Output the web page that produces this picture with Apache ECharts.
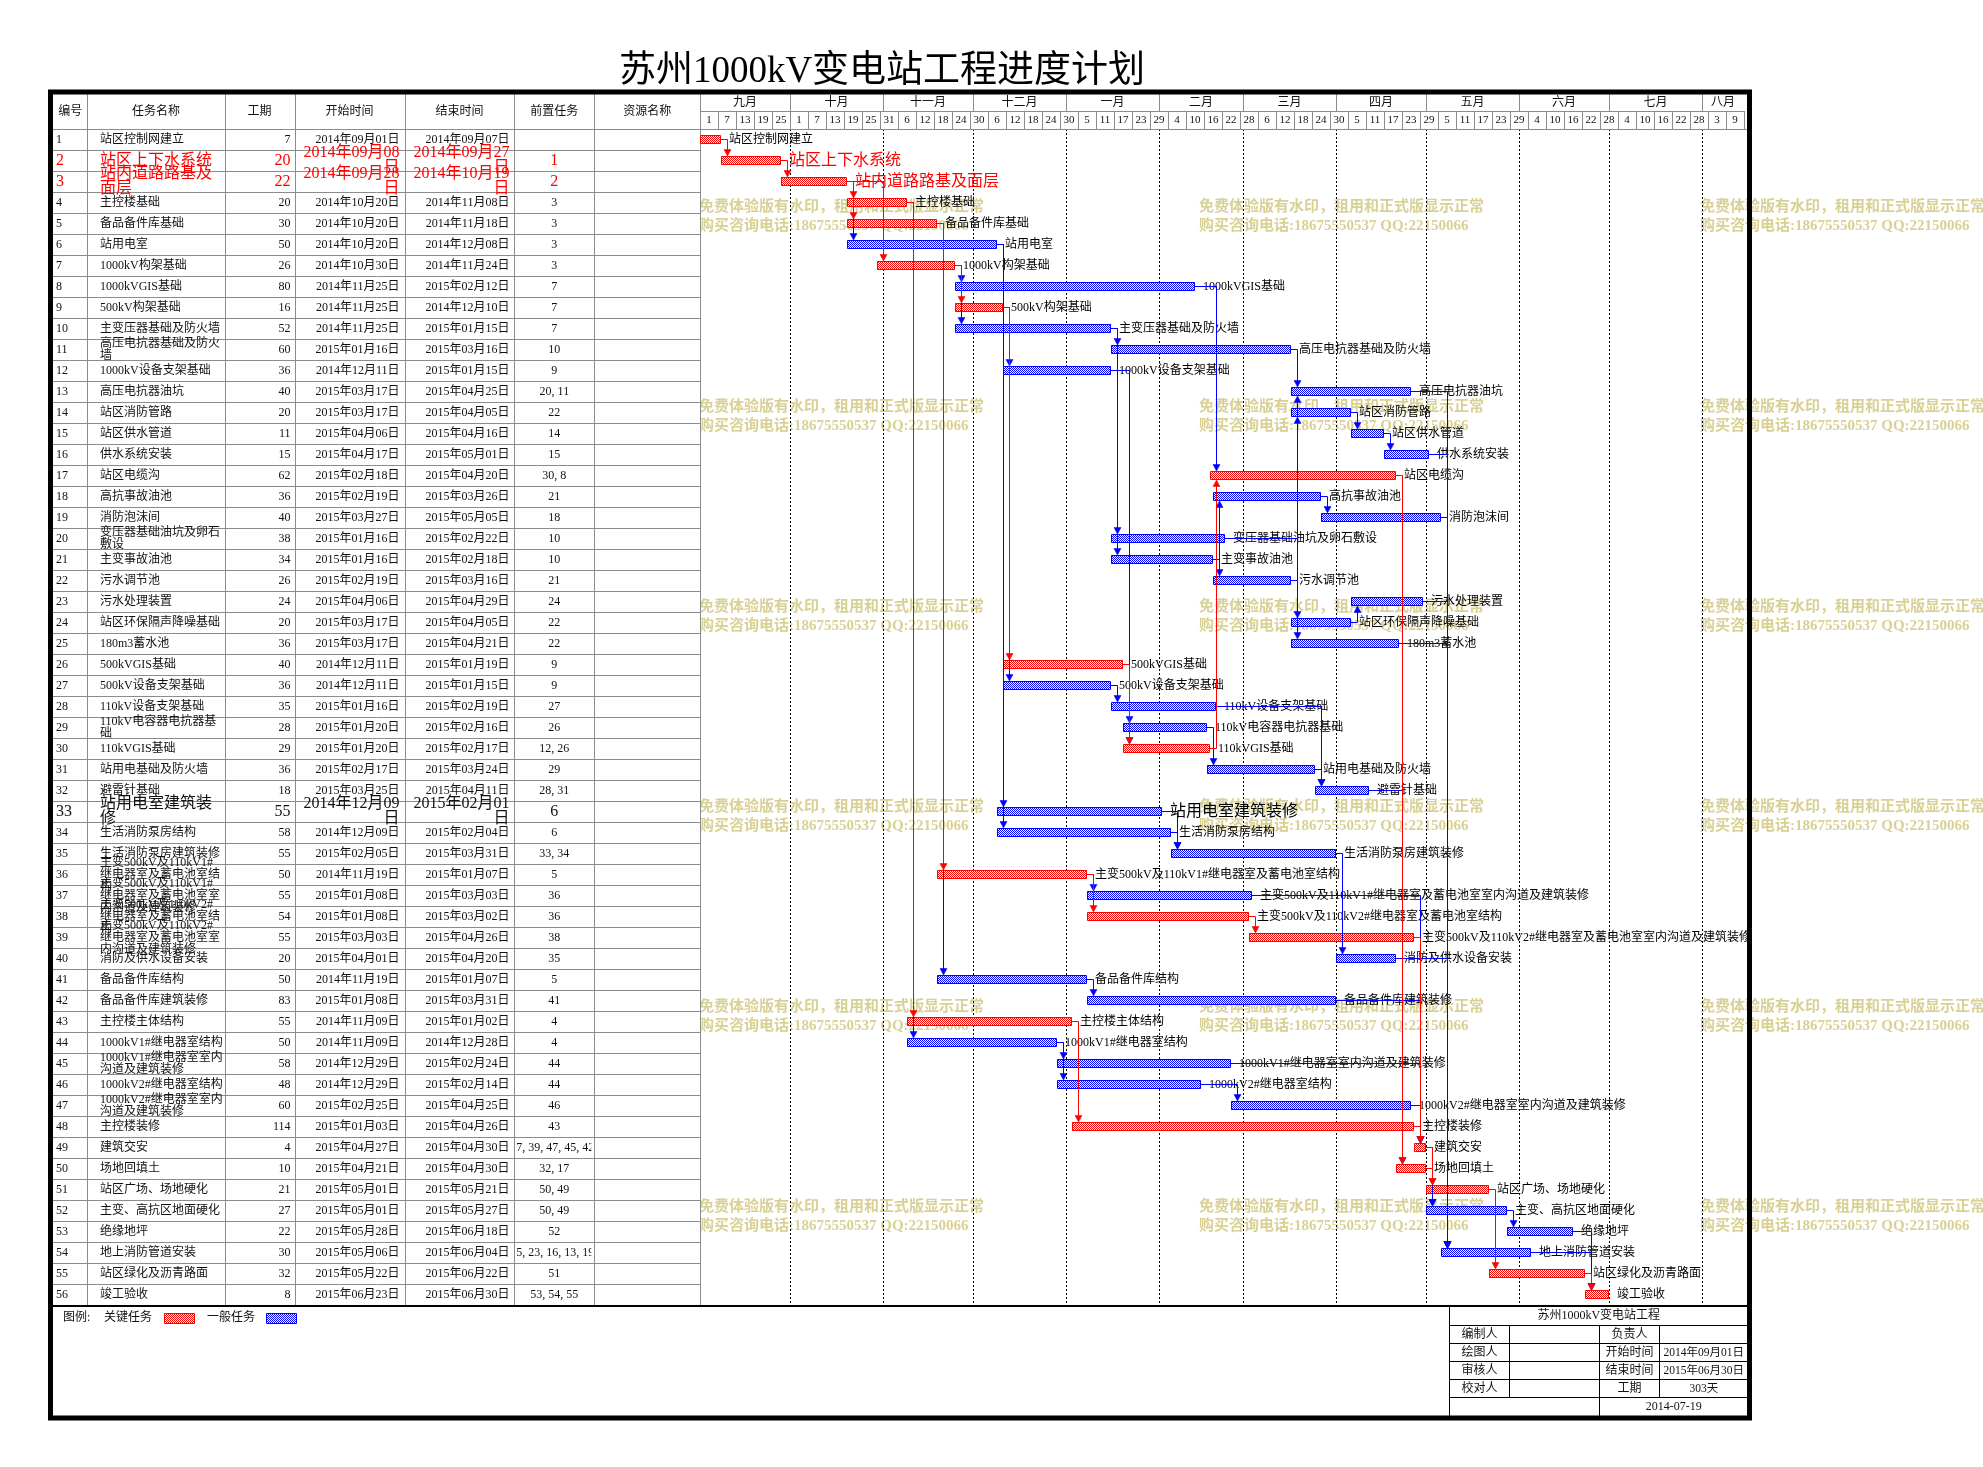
<!DOCTYPE html>
<html><head><meta charset="utf-8"><title>苏州1000kV变电站工程进度计划</title>
<script src="https://cdn.jsdelivr.net/npm/echarts@6.0.0/dist/echarts.min.js"></script>
<style>html,body{margin:0;padding:0;background:#fff;}#chart{width:1983px;height:1467px;}</style>
</head><body><div id="chart"></div>
<script>
// ================= DATA =================
const chartTitle = '苏州1000kV变电站工程进度计划';
const tableHeaders = ['编号','任务名称','工期','开始时间','结束时间','前置任务','资源名称'];
const taskNames = ['站区控制网建立','站区上下水系统','站内道路路基及面层','主控楼基础','备品备件库基础','站用电室','1000kV构架基础','1000kVGIS基础','500kV构架基础','主变压器基础及防火墙',
'高压电抗器基础及防火墙','1000kV设备支架基础','高压电抗器油坑','站区消防管路','站区供水管道','供水系统安装','站区电缆沟','高抗事故油池','消防泡沫间','变压器基础油坑及卵石敷设',
'主变事故油池','污水调节池','污水处理装置','站区环保隔声降噪基础','180m3蓄水池','500kVGIS基础','500kV设备支架基础','110kV设备支架基础','110kV电容器电抗器基础','110kVGIS基础',
'站用电基础及防火墙','避雷针基础','站用电室建筑装修','生活消防泵房结构','生活消防泵房建筑装修','主变500kV及110kV1#继电器室及蓄电池室结构','主变500kV及110kV1#继电器室及蓄电池室室内沟道及建筑装修','主变500kV及110kV2#继电器室及蓄电池室结构','主变500kV及110kV2#继电器室及蓄电池室室内沟道及建筑装修','消防及供水设备安装',
'备品备件库结构','备品备件库建筑装修','主控楼主体结构','1000kV1#继电器室结构','1000kV1#继电器室室内沟道及建筑装修','1000kV2#继电器室结构','1000kV2#继电器室室内沟道及建筑装修','主控楼装修','建筑交安','场地回填土',
'站区广场、场地硬化','主变、高抗区地面硬化','绝缘地坪','地上消防管道安装','站区绿化及沥青路面','竣工验收'];
const durations = [7,20,22,20,30,50,26,80,16,52,60,36,40,20,11,15,62,36,40,38,34,26,24,20,36,40,36,35,28,29,36,18,55,58,55,50,55,54,55,20,50,83,55,50,58,48,60,114,4,10,21,27,22,30,32,8];
const startDates = ['2014-09-01','2014-09-08','2014-09-28','2014-10-20','2014-10-20','2014-10-20','2014-10-30','2014-11-25','2014-11-25','2014-11-25',
'2015-01-16','2014-12-11','2015-03-17','2015-03-17','2015-04-06','2015-04-17','2015-02-18','2015-02-19','2015-03-27','2015-01-16',
'2015-01-16','2015-02-19','2015-04-06','2015-03-17','2015-03-17','2014-12-11','2014-12-11','2015-01-16','2015-01-20','2015-01-20',
'2015-02-17','2015-03-25','2014-12-09','2014-12-09','2015-02-05','2014-11-19','2015-01-08','2015-01-08','2015-03-03','2015-04-01',
'2014-11-19','2015-01-08','2014-11-09','2014-11-09','2014-12-29','2014-12-29','2015-02-25','2015-01-03','2015-04-27','2015-04-21',
'2015-05-01','2015-05-01','2015-05-28','2015-05-06','2015-05-22','2015-06-23'];
const endDates = ['2014-09-07','2014-09-27','2014-10-19','2014-11-08','2014-11-18','2014-12-08','2014-11-24','2015-02-12','2014-12-10','2015-01-15',
'2015-03-16','2015-01-15','2015-04-25','2015-04-05','2015-04-16','2015-05-01','2015-04-20','2015-03-26','2015-05-05','2015-02-22',
'2015-02-18','2015-03-16','2015-04-29','2015-04-05','2015-04-21','2015-01-19','2015-01-15','2015-02-19','2015-02-16','2015-02-17',
'2015-03-24','2015-04-11','2015-02-01','2015-02-04','2015-03-31','2015-01-07','2015-03-03','2015-03-02','2015-04-26','2015-04-20',
'2015-01-07','2015-03-31','2015-01-02','2014-12-28','2015-02-24','2015-02-14','2015-04-25','2015-04-26','2015-04-30','2015-04-30',
'2015-05-21','2015-05-27','2015-06-18','2015-06-04','2015-06-22','2015-06-30'];
const predecessors = [[],[1],[2],[3],[3],[3],[3],[7],[7],[7],
[10],[9],[20,11],[22],[14],[15],[30,8],[21],[18],[10],
[10],[21],[24],[22],[22],[9],[9],[27],[26],[12,26],
[29],[28,31],[6],[6],[33,34],[5],[36],[36],[38],[35],
[5],[41],[4],[4],[44],[44],[46],[43],[37,39,47,45,42,48],[32,17],
[50,49],[50,49],[52],[25,23,16,13,19,40],[51],[53,54,55]];
const criticalTasks = [1,2,3,4,5,7,9,17,26,30,36,38,39,43,48,49,50,51,55,56];
const axisStart = '2014-09-01';
const axisEnd = '2015-08-15';
const monthLabels = ['九月','十月','十一月','十二月','一月','二月','三月','四月','五月','六月','七月','八月'];
const monthStartDates = ['2014-09-01','2014-10-01','2014-11-01','2014-12-01','2015-01-01','2015-02-01','2015-03-01','2015-04-01','2015-05-01','2015-06-01','2015-07-01','2015-08-01'];
const dayTickLabels = [1,7,13,19,25, 1,7,13,19,25,31, 6,12,18,24,30, 6,12,18,24,30, 5,11,17,23,29, 4,10,16,22,28, 6,12,18,24,30, 5,11,17,23,29, 5,11,17,23,29, 4,10,16,22,28, 4,10,16,22,28, 3,9];
const dayTickStep = 6;
const legendLabels = ['图例:','关键任务','一般任务'];
const infoTitle = '苏州1000kV变电站工程';
const infoLeftLabels = ['编制人','绘图人','审核人','校对人'];
const infoRightLabels = ['负责人','开始时间','结束时间','工期'];
const infoRightValues = ['','2014年09月01日','2015年06月30日','303天'];
const infoDate = '2014-07-19';
const watermarkLines = ['免费体验版有水印，租用和正式版显示正常','购买咨询电话:18675550537 QQ:22150066'];

// ================= STYLE / LAYOUT =================
const FONT = "'Liberation Serif','Noto Sans CJK SC',serif";
const TXT = '#111';
const GRIDC = '#8c8c8c';
const RED = '#ff0000', BLUE = '#0000ff';
const BIG_ROWS = [2,3,33];       // rows drawn with larger font
const RED_TEXT_ROWS = [2,3];     // rows whose text is red
const TABLE_LEFT = 50, GANTT_LEFT = 700, TOP = 129, ROW_H = 21;
const COLS = [37.3,174.6,244.6,354.5,464.3,544.4,650]; // column borders (offset from table left)

function dayIndex(s){const a=s.split('-').map(Number), b=axisStart.split('-').map(Number);return Math.round((Date.UTC(a[0],a[1]-1,a[2])-Date.UTC(b[0],b[1]-1,b[2]))/86400000);}
function fmtDate(s){const a=s.split('-');return a[0]+'年'+a[1]+'月'+a[2]+'日';}
const AXIS_MAX = dayIndex(axisEnd);
const N = taskNames.length;
const isCrit = id => criticalTasks.indexOf(id) >= 0;
const predText = predecessors.map(p => p.join(', '));
const measureCtx = document.createElement('canvas').getContext('2d');
function textWidth(s, font){ measureCtx.font = font; return measureCtx.measureText(s).width; }

function makePattern(color){
  const c=document.createElement('canvas');c.width=2;c.height=2;
  const g=c.getContext('2d');g.fillStyle='#fff';g.fillRect(0,0,2,2);g.fillStyle=color;g.fillRect(0,0,1,1);g.fillRect(1,1,1,1);
  return c;
}
const redPat = makePattern(RED), bluePat = makePattern(BLUE);

// ================= RENDERERS =================
function renderTableRow(params, api){
  const i = api.value(0);
  const c = api.coord([0, i]);
  const h = api.size([0, 1])[1];
  const yT = c[1]-h/2, yB = c[1]+h/2;
  const X = o => api.coord([o, i])[0];
  const id = i+1;
  const big = BIG_ROWS.indexOf(id) >= 0;
  const fill = RED_TEXT_ROWS.indexOf(id) >= 0 ? RED : TXT;
  const fs = big ? 16 : 12, lh = big ? 15 : 12;
  const font = fs+'px '+FONT;
  const yl = Math.round(yB)+0.5;
  const ch = [{type:'line', shape:{x1:X(3), y1:yl, x2:X(650), y2:yl}, style:{stroke:GRIDC, lineWidth:1}}];
  COLS.forEach(o => {const x=Math.round(X(o))+0.5; ch.push({type:'line', shape:{x1:x,y1:yT,x2:x,y2:yB}, style:{stroke:GRIDC,lineWidth:1}});});
  const t = (x, txt, align, w) => {
    const st = {text:txt, font:font, fill:fill, align:align, verticalAlign:'middle', lineHeight:lh};
    if (w) { st.width = w; st.overflow = 'break'; }
    return {type:'text', x:x, y:c[1], z2:5, style:st};
  };
  const dateW = big ? 96 : 105;
  ch.push(t(X(6), String(id), 'left'));
  ch.push(t(X(50), taskNames[i], 'left', 125));
  ch.push(t(X(240.5), String(durations[i]), 'right'));
  ch.push(t(X(349.5), fmtDate(startDates[i]), 'right', dateW));
  ch.push(t(X(459.4), fmtDate(endDates[i]), 'right', dateW));
  const px0 = X(464.3), px1 = X(544.4);
  const pw = textWidth(predText[i], font);
  const predEl = pw > px1 - px0 - 4 ? t(px0 - 4, predText[i], 'left') : t((px0+px1)/2, predText[i], 'center');
  ch.push({type:'group', clipPath:{type:'rect', shape:{x:px0+2, y:yT, width:px1-px0-5, height:h}}, children:[predEl]});
  return {type:'group', children:ch};
}

function renderMonth(params, api){
  const s = api.value(0), e = api.value(1);
  const x0 = api.coord([s, 0])[0], x1 = api.coord([e, 0])[0];
  const cs = params.coordSys; const top = cs.y;
  const ch = [];
  const xs = Math.round(x0)+0.5;
  if (params.dataIndex > 0) {
    ch.push({type:'line', shape:{x1:xs,y1:top-35,x2:xs,y2:top-18}, style:{stroke:GRIDC,lineWidth:1}});
    ch.push({type:'line', shape:{x1:xs,y1:top,x2:xs,y2:cs.y+cs.height}, style:{stroke:'#000',lineWidth:1,lineDash:[2,2]}});
  }
  ch.push({type:'text', x:(x0+x1)/2, y:top-26, style:{text:monthLabels[params.dataIndex], font:'12px '+FONT, fill:TXT, align:'center', verticalAlign:'middle'}});
  return {type:'group', children:ch};
}

function renderDay(params, api){
  const s = api.value(0);
  const x0 = api.coord([s, 0])[0], x1 = api.coord([s+dayTickStep, 0])[0];
  const top = params.coordSys.y;
  const xs = Math.round(x1)+0.5;
  return {type:'group', children:[
    {type:'line', shape:{x1:xs,y1:top-18,x2:xs,y2:top}, style:{stroke:GRIDC,lineWidth:1}},
    {type:'line', shape:{x1:x0,y1:top-17.5,x2:x1,y2:top-17.5}, style:{stroke:GRIDC,lineWidth:1}},
    {type:'text', x:(x0+x1)/2, y:top-9, style:{text:String(dayTickLabels[params.dataIndex]), font:'11px '+FONT, fill:TXT, align:'center', verticalAlign:'middle'}}
  ]};
}

function renderBar(params, api){
  const s = api.value(0), e = api.value(1), row = api.value(2), crit = api.value(3);
  const p0 = api.coord([s, row]), p1 = api.coord([e, row]);
  const id = row+1;
  const big = BIG_ROWS.indexOf(id) >= 0;
  const tcol = RED_TEXT_ROWS.indexOf(id) >= 0 ? RED : '#000';
  const col = crit ? RED : BLUE;
  return {type:'group', children:[
    {type:'rect', shape:{x:Math.round(p0[0])+0.5, y:p0[1]-4, width:Math.round(p1[0]-p0[0])-1, height:8},
      style:{fill:{image:crit?redPat:bluePat, repeat:'repeat'}, stroke:col, lineWidth:1}},
    {type:'text', x:p1[0]+8, y:p0[1], style:{text:taskNames[row], font:(big?16:12)+'px '+FONT, fill:tcol, align:'left', verticalAlign:'middle'}}
  ]};
}

function renderLink(params, api){
  const pEnd = api.value(0), pRow = api.value(1), sStart = api.value(2), sRow = api.value(3), crit = api.value(4);
  const a = api.coord([pEnd, pRow]), b = api.coord([sStart, sRow]);
  const xv = Math.round(Math.max(a[0], b[0]) + 6) + 0.5;
  const down = sRow > pRow, dir = down ? 1 : -1;
  const yT = down ? b[1]-4.5 : b[1]+4.5;
  const col = crit ? RED : BLUE;
  return {type:'group', children:[
    {type:'polyline', shape:{points:[[a[0]-0.5, a[1]], [xv, a[1]], [xv, yT-dir*5]]}, style:{stroke:col, lineWidth:1, fill:null}},
    {type:'polygon', shape:{points:[[xv-3.5, yT-dir*6.5], [xv+3.5, yT-dir*6.5], [xv, yT]]}, style:{fill:col, stroke:col, lineWidth:0.5}}
  ]};
}

// ================= SERIES DATA =================
const startIdx = startDates.map(dayIndex), endIdx = endDates.map(dayIndex);
const rowData = taskNames.map((_, i) => [i]);
const barData = taskNames.map((_, i) => [startIdx[i], endIdx[i]+1, i, isCrit(i+1)?1:0]);
const linkData = [];
predecessors.forEach((ps, si) => ps.forEach(p => {
  const pi = p-1;
  linkData.push([endIdx[pi]+1, pi, startIdx[si], si, (isCrit(p) && isCrit(si+1)) ? 1 : 0]);
}));
linkData.sort((x, y) => x[4]-y[4]);
const monthData = monthStartDates.map((d, k) => [dayIndex(d), k+1 < monthStartDates.length ? dayIndex(monthStartDates[k+1]) : AXIS_MAX]);
const dayData = dayTickLabels.map((_, k) => [k*dayTickStep]);

// ================= GRAPHIC (static decoration) =================
const g = [];
const txt = (x, y, text, size, align, extra) => Object.assign({type:'text', x:x, y:y, z:20,
  style:{text:text, font:size+'px '+FONT, fill:TXT, align:align||'center', textAlign:align||'center', verticalAlign:'middle', textVerticalAlign:'middle'}}, extra||{});
const ln = (x1, y1, x2, y2, stroke, w) => ({type:'line', z:20, shape:{x1:x1,y1:y1,x2:x2,y2:y2}, style:{stroke:stroke||GRIDC, lineWidth:w||1}});
// watermarks
[699,1199,1700].forEach(wx => { for (let k=0;k<6;k++){
  watermarkLines.forEach((line, j) => g.push({type:'text', x:wx, y:207+200*k+19*j, z:0, silent:true,
    style:{text:line, font:'bold 15px '+FONT, fill:'#d9d095', align:'left', textAlign:'left', verticalAlign:'middle', textVerticalAlign:'middle'}}));
}});
// title
g.push(txt(882, 72, chartTitle, 36, 'center', {style:{text:chartTitle, font:'37px '+FONT, fill:'#000', align:'center', textAlign:'center', verticalAlign:'middle', textVerticalAlign:'middle'}}));
// table header
const colX = [TABLE_LEFT+3].concat(COLS.map(o => TABLE_LEFT+o));
tableHeaders.forEach((h, k) => g.push(txt((colX[k]+colX[k+1])/2, 111.5, h, 12)));
COLS.forEach(o => {const x=Math.round(TABLE_LEFT+o)+0.5; g.push(ln(x, 94, x, TOP));});
g.push(ln(52, TOP+0.5, 1748, TOP+0.5));
// table bottom & frame
g.push(ln(50, TOP+N*ROW_H+1, 1750, TOP+N*ROW_H+1, '#000', 2));
g.push({type:'rect', z:30, shape:{x:50.5, y:92, width:1699, height:1326}, style:{fill:null, stroke:'#000', lineWidth:5}});
// legend
g.push(txt(63, 1318, legendLabels[0], 12, 'left'));
g.push(txt(104, 1318, legendLabels[1], 12, 'left'));
g.push({type:'rect', z:20, shape:{x:164.5, y:1313.5, width:30, height:10}, style:{fill:{image:redPat, repeat:'repeat'}, stroke:RED, lineWidth:1}});
g.push(txt(207, 1318, legendLabels[2], 12, 'left'));
g.push({type:'rect', z:20, shape:{x:266.5, y:1313.5, width:30, height:10}, style:{fill:{image:bluePat, repeat:'repeat'}, stroke:BLUE, lineWidth:1}});
// info box
const IB = {x0:1449.5, x1:1509.5, x2:1599.5, x3:1659.5, x4:1748, rows:[1307,1325.5,1343.5,1361.5,1379.5,1397.5,1416]};
g.push(ln(IB.x0, 1306, IB.x0, 1417, '#000'));
for (let r=1;r<=5;r++) g.push(ln(IB.x0, IB.rows[r], IB.x4, IB.rows[r], '#000'));
g.push(ln(IB.x1, IB.rows[1], IB.x1, IB.rows[5], '#000'));
g.push(ln(IB.x3, IB.rows[1], IB.x3, IB.rows[5], '#000'));
g.push(ln(IB.x2, IB.rows[1], IB.x2, IB.rows[6], '#000'));
g.push(txt((IB.x0+IB.x4)/2, (IB.rows[0]+IB.rows[1])/2, infoTitle, 12));
for (let r=0;r<4;r++){
  const yc = (IB.rows[r+1]+IB.rows[r+2])/2;
  g.push(txt((IB.x0+IB.x1)/2, yc, infoLeftLabels[r], 12));
  g.push(txt((IB.x2+IB.x3)/2, yc, infoRightLabels[r], 12));
  if (infoRightValues[r]) g.push(txt((IB.x3+IB.x4)/2, yc, infoRightValues[r], 11.5));
}
g.push(txt((IB.x2+IB.x4)/2, (IB.rows[5]+IB.rows[6])/2, infoDate, 12));

// ================= CHART =================
const chart = echarts.init(document.getElementById('chart'), null, {renderer:'canvas'});
const cats = taskNames.map((_, i) => String(i+1));
chart.setOption({
  backgroundColor:'#fff',
  animation:false,
  grid:[
    {left:TABLE_LEFT, top:TOP, width:GANTT_LEFT-TABLE_LEFT, height:N*ROW_H, containLabel:false},
    {left:GANTT_LEFT, top:TOP, width:AXIS_MAX*3, height:N*ROW_H, containLabel:false}
  ],
  xAxis:[
    {type:'value', gridIndex:0, min:0, max:GANTT_LEFT-TABLE_LEFT, show:false},
    {type:'value', gridIndex:1, min:0, max:AXIS_MAX, show:false}
  ],
  yAxis:[
    {type:'category', gridIndex:0, data:cats, inverse:true, show:false},
    {type:'category', gridIndex:1, data:cats, inverse:true, show:false}
  ],
  graphic:{elements:g},
  series:[
    {type:'custom', xAxisIndex:0, yAxisIndex:0, z:3, data:rowData, renderItem:renderTableRow, silent:true},
    {type:'custom', xAxisIndex:1, yAxisIndex:1, z:3, data:monthData, renderItem:renderMonth, silent:true},
    {type:'custom', xAxisIndex:1, yAxisIndex:1, z:3, data:dayData, renderItem:renderDay, silent:true},
    {type:'custom', xAxisIndex:1, yAxisIndex:1, z:4, data:barData, renderItem:renderBar, silent:true},
    {type:'custom', xAxisIndex:1, yAxisIndex:1, z:5, data:linkData, renderItem:renderLink, silent:true}
  ]
});
</script></body></html>
